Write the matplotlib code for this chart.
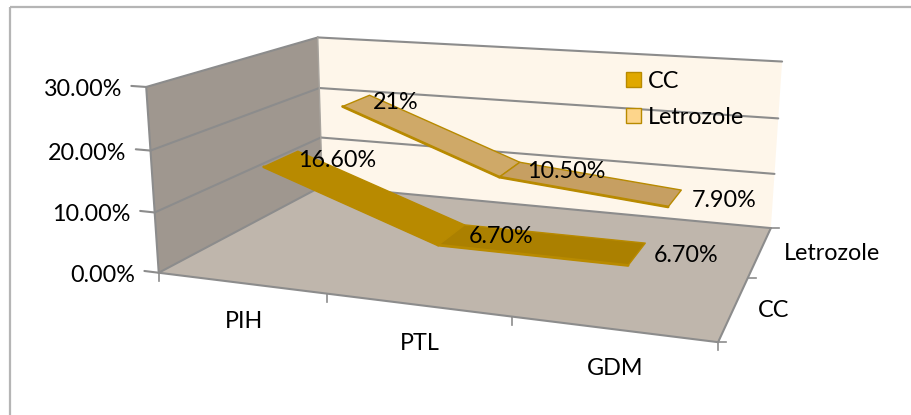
import numpy as np
from matplotlib import pyplot as plt
from matplotlib.patches import Polygon, Rectangle

categorias = ['PIH', 'PTL', 'GDM']
series = ['CC', 'Letrozole']
valores_cc = [16.6, 6.7, 6.7]
valores_letrozole = [21, 10.5, 7.9]
etiquetas_cc = ['16.60%', '6.70%', '6.70%']
etiquetas_letrozole = ['21%', '10.50%', '7.90%']
ticks_valor = [0, 10, 20, 30]
etiquetas_valor = ['0.00%', '10.00%', '20.00%', '30.00%']

GRIS = '#8c8c8c'
FUENTE = 16.8
ANCHO_CINTA = 0.2

# esquinas de la caja: (categoria, serie, valor) -> pixel
esquinas_caja = [
    ((0, 0, 0), (159, 272)), ((3, 0, 0), (718, 343)),
    ((0, 2, 0), (322, 187)), ((3, 2, 0), (771, 227)),
    ((0, 0, 30), (146, 87)),
    ((0, 2, 30), (318, 37)), ((3, 2, 30), (782, 62)),
]


def calcular_camara(pares):
    filas = []
    for (x, y, z), (u, v) in pares:
        filas.append([x, y, z, 1, 0, 0, 0, 0, -u * x, -u * y, -u * z, -u])
        filas.append([0, 0, 0, 0, x, y, z, 1, -v * x, -v * y, -v * z, -v])
    _, _, vt = np.linalg.svd(np.array(filas, dtype=float))
    return vt[-1].reshape(3, 4)


camara = calcular_camara(esquinas_caja)


def proyectar(x, y, z):
    u, v, w = camara @ np.array([x, y, z, 1.0])
    return u / w, v / w


def linea(ax, a, b, color=GRIS, lw=1.5, zorder=3):
    pa, pb = proyectar(*a), proyectar(*b)
    ax.plot([pa[0], pb[0]], [pa[1], pb[1]], color=color, lw=lw, zorder=zorder,
            solid_capstyle='round')


def cara(ax, puntos, color, zorder=1, borde=None, lw=0):
    ax.add_patch(Polygon([proyectar(*p) for p in puntos], closed=True, facecolor=color,
                         edgecolor=borde if borde else color, lw=lw, zorder=zorder,
                         joinstyle='round'))


plt.rcParams['font.family'] = ['Lato', 'DejaVu Sans']
fig = plt.figure(figsize=(9.11, 4.15), dpi=100)
ax = fig.add_axes([0, 0, 1, 1])
ax.set_xlim(0, 911)
ax.set_ylim(415, 0)
ax.axis('off')

# marco del grafico
ax.add_patch(Rectangle((10, 7), 930, 430, fill=False, edgecolor='#b5b5b5', lw=1.6, zorder=0))

n_cat = len(categorias)
n_ser = len(series)
cima = ticks_valor[-1]

# paredes y piso
cara(ax, [(0, n_ser, 0), (n_cat, n_ser, 0), (n_cat, n_ser, cima), (0, n_ser, cima)], '#fef6ea', 1)
cara(ax, [(0, 0, 0), (0, n_ser, 0), (0, n_ser, cima), (0, 0, cima)], '#9f978f', 1)
cara(ax, [(0, 0, 0), (n_cat, 0, 0), (n_cat, n_ser, 0), (0, n_ser, 0)], '#bfb6ac', 2)

# rejilla sobre las paredes
for t in ticks_valor:
    linea(ax, (0, 0, t), (0, n_ser, t))
    linea(ax, (0, n_ser, t), (n_cat, n_ser, t))
    linea(ax, (0, 0, t), (-0.09, 0, t))
linea(ax, (0, 0, 0), (0, 0, cima))
linea(ax, (0, n_ser, 0), (0, n_ser, cima), color='#a8a49e', lw=1)
linea(ax, (0, 0, 0), (n_cat, 0, 0))
linea(ax, (n_cat, 0, 0), (n_cat, n_ser, 0))

# marcas de los ejes
for i in range(n_cat + 1):
    p = proyectar(i, 0, 0)
    ax.plot([p[0], p[0]], [p[1], p[1] + 8], color=GRIS, lw=1.2, zorder=3)
for j in range(n_ser + 1):
    p = proyectar(n_cat, j, 0)
    ax.plot([p[0], p[0] + 8], [p[1], p[1]], color=GRIS, lw=1.2, zorder=3)

# cintas, primero la de atras
cintas = [
    (1, valores_letrozole, ['#cfa968', '#c69f62'], etiquetas_letrozole),
    (0, valores_cc, ['#b88a00', '#ab8000'], etiquetas_cc),
]
for j, valores, colores, etiquetas in cintas:
    centro = j + 0.5
    for i in range(n_cat - 1):
        color = colores[0] if i == 0 else colores[1]
        cara(ax, [(i + 0.5, centro - ANCHO_CINTA, valores[i]),
                  (i + 0.5, centro + ANCHO_CINTA, valores[i]),
                  (i + 1.5, centro + ANCHO_CINTA, valores[i + 1]),
                  (i + 1.5, centro - ANCHO_CINTA, valores[i + 1])],
             color, 4 + (1 - j), borde='#b88a00', lw=1.0)
        # borde delantero mas grueso
        linea(ax, (i + 0.5, centro - ANCHO_CINTA, valores[i]),
              (i + 1.5, centro - ANCHO_CINTA, valores[i + 1]),
              color='#b88a00', lw=2.0, zorder=5 + (1 - j))
    for i, texto in enumerate(etiquetas):
        u, v = proyectar(i + 0.5, centro, valores[i])
        ax.text(u + 17, v + 2, texto, fontsize=FUENTE, ha='left', va='center', zorder=8)

# etiquetas de los ejes
for t, texto in zip(ticks_valor, etiquetas_valor):
    u, v = proyectar(0, 0, t)
    ax.text(u - 24, v + 2.5, texto, fontsize=FUENTE, ha='right', va='center', zorder=8)
for i, texto in enumerate(categorias):
    u, v = proyectar(i + 0.5, 0, 0)
    ax.text(u + 3, v + 39, texto, fontsize=FUENTE, ha='center', va='center', zorder=8)
for j, texto in enumerate(series):
    u, v = proyectar(n_cat, j + 0.5, 0)
    ax.text(u + 24, v + 2.5, texto, fontsize=FUENTE, ha='left', va='center', zorder=8)

# leyenda
for texto, color, y in zip(series, ['#e0a800', '#fdd58b'], [72, 108]):
    ax.add_patch(Rectangle((626, y), 15, 15, facecolor=color, edgecolor='#b88a00', lw=1, zorder=8))
    ax.text(648, y + 9, texto, fontsize=FUENTE, ha='left', va='center', zorder=8)

fig.savefig('out.png', dpi=100)
